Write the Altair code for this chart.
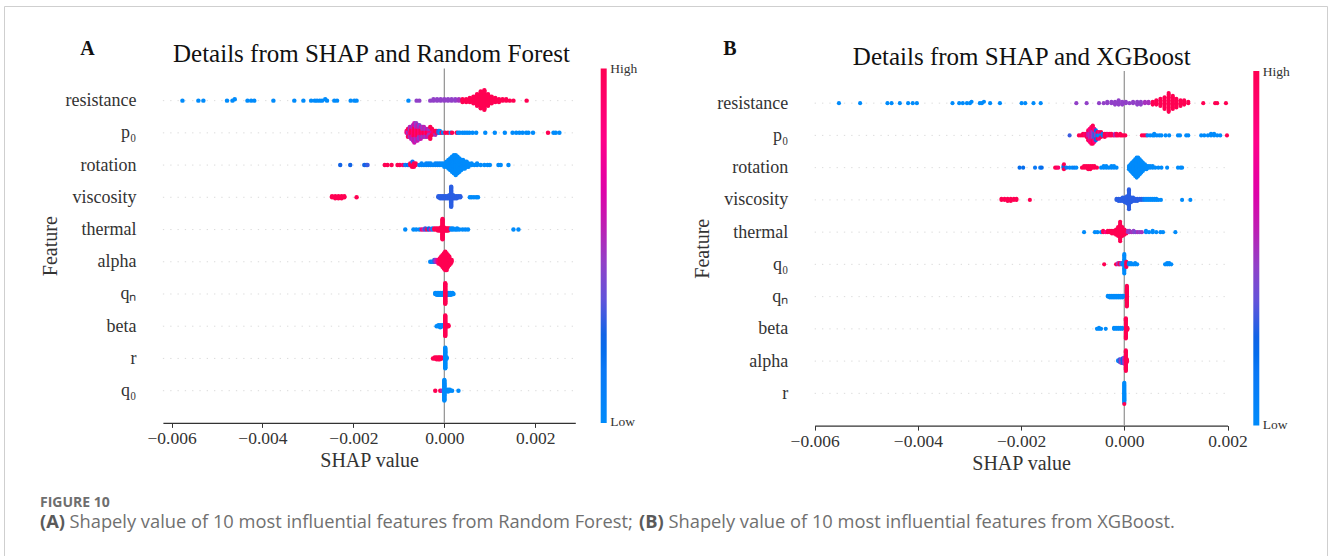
import json
import altair as alt
import numpy as np
import pandas as pd

# SHAP values in units of 0.001; each entry: (shap value, number of samples, scaled feature value 0=low .. 1=high)
UNIT = 0.001

RF_FEATURES = ["resistance", "p₀", "rotation", "viscosity", "thermal", "alpha", "qₙ", "beta", "r", "q₀"]
XGB_FEATURES = ["resistance", "p₀", "rotation", "viscosity", "thermal", "q₀", "qₙ", "beta", "alpha", "r"]

RF_RESISTANCE = [
    (-5.76, 1, 0), (-5.41, 1, 0), (-5.30, 1, 0), (-4.78, 1, 0), (-4.66, 1, 0), (-4.61, 1, 0), (-4.33, 1, 0),
    (-4.25, 1, 0), (-4.18, 1, 0), (-3.76, 1, 0), (-3.30, 1, 0), (-3.10, 1, 0), (-2.93, 1, 0), (-2.85, 1, 0),
    (-2.80, 1, 0), (-2.74, 1, 0), (-2.69, 1, 0), (-2.62, 1, 0), (-2.58, 1, 0), (-2.42, 1, 0), (-2.36, 1, 0),
    (-2.06, 1, 0), (-1.98, 1, 0), (-1.93, 1, 0), (-0.79, 1, 0),
    (-0.61, 1, 0.45), (-0.55, 1, 0.45), (-0.31, 1, 0.45), (-0.24, 2, 0.45), (-0.16, 2, 0.45), (-0.08, 2, 0.45),
    (0.00, 2, 0.45), (0.08, 2, 0.45), (0.16, 2, 0.45), (0.24, 2, 0.45), (0.32, 2, 0.5),
    (0.40, 3, 1), (0.48, 3, 1), (0.56, 4, 1), (0.64, 6, 1), (0.72, 10, 1), (0.80, 14, 1), (0.88, 16, 1),
    (0.96, 10, 1), (1.04, 6, 1), (1.12, 4, 1), (1.20, 3, 1), (1.28, 2, 1), (1.36, 2, 1), (1.44, 1, 1),
    (1.52, 1, 1), (1.81, 1, 1),
]
RF_P0 = [
    (-0.83, 2, 0.85), (-0.80, 3, 0.5), (-0.80, 2, 1), (-0.76, 3, 0.85), (-0.76, 3, 0.5), (-0.73, 4, 1),
    (-0.73, 3, 0.6), (-0.69, 5, 0.85), (-0.69, 4, 0.5), (-0.66, 6, 1), (-0.66, 5, 0.6), (-0.62, 5, 0.85),
    (-0.62, 5, 0.45), (-0.59, 5, 1), (-0.59, 4, 0.6), (-0.55, 4, 0.85), (-0.55, 4, 0.4), (-0.52, 4, 1),
    (-0.52, 3, 0.6), (-0.48, 3, 0.9), (-0.48, 3, 0.45), (-0.45, 3, 1), (-0.45, 3, 0.55), (-0.41, 3, 0.85),
    (-0.41, 2, 0.45), (-0.38, 3, 1), (-0.38, 2, 0.6), (-0.34, 2, 0.85), (-0.34, 2, 0.5), (-0.31, 3, 1),
    (-0.27, 2, 0.6), (-0.27, 2, 1), (-0.24, 2, 0.9), (-0.20, 2, 1), (-0.20, 1, 0.5), (-0.17, 2, 1),
    (-0.13, 2, 0.3), (-0.10, 2, 0), (-0.06, 1, 1), (-0.03, 1, 0), (0.02, 1, 1), (0.08, 1, 1), (0.14, 1, 0),
    (0.17, 1, 1), (0.27, 1, 1),
    (0.30, 1, 0), (0.34, 1, 0), (0.40, 1, 0), (0.45, 1, 0), (0.50, 1, 0), (0.55, 1, 0), (0.62, 1, 0),
    (0.70, 1, 0), (0.90, 1, 0), (1.11, 1, 0), (1.33, 1, 0), (1.50, 1, 0), (1.58, 1, 0), (1.65, 1, 0),
    (1.72, 1, 0), (1.80, 1, 0), (1.85, 1, 0), (1.95, 1, 0), (2.28, 1, 1), (2.40, 1, 0), (2.45, 1, 0),
    (2.53, 1, 0),
]
RF_ROTATION = [
    (-2.29, 1, 0.25), (-2.07, 1, 0.25), (-1.76, 1, 0.25), (-1.72, 1, 0.25), (-1.69, 1, 0.3),
    (-1.31, 1, 1), (-1.25, 1, 1), (-1.16, 1, 1), (-1.03, 1, 1), (-0.98, 1, 1), (-0.91, 1, 0.9),
    (-0.86, 1, 0.1), (-0.80, 1, 0.2), (-0.77, 1, 0),
    (-0.75, 2, 1), (-0.71, 3, 1), (-0.70, 1, 0.15), (-0.67, 3, 1), (-0.63, 2, 1),
    (-0.55, 1, 0.05), (-0.50, 2, 0.05), (-0.45, 1, 0.05), (-0.40, 2, 0.05), (-0.35, 2, 0.05), (-0.30, 2, 0.05),
    (-0.25, 1, 0.05), (-0.20, 2, 0.05), (-0.15, 2, 0.05), (-0.10, 2, 0.05), (-0.05, 2, 0), (0.00, 3, 0),
    (0.05, 4, 0), (0.09, 6, 0), (0.13, 8, 0), (0.17, 10, 0), (0.21, 12, 0), (0.25, 13, 0), (0.29, 11, 0),
    (0.33, 9, 0), (0.37, 7, 0), (0.41, 6, 0), (0.45, 5, 0), (0.49, 4, 0), (0.53, 3, 0),
    (0.60, 2, 0), (0.66, 1, 0), (0.72, 2, 0), (0.80, 1, 0), (0.88, 1, 0), (0.95, 1, 0), (1.00, 1, 0),
    (1.19, 1, 0), (1.24, 1, 0), (1.41, 1, 0),
]
RF_VISCOSITY = [
    (-2.47, 2, 1), (-2.40, 3, 1), (-2.33, 3, 1), (-2.26, 3, 1), (-2.20, 2, 1), (-1.93, 1, 1),
    (-0.13, 2, 0.28), (-0.09, 3, 0.28), (-0.05, 3, 0.28), (-0.01, 3, 0.28), (0.03, 3, 0.28), (0.07, 3, 0.28),
    (0.11, 4, 0.28), (0.15, 20, 0.28), (0.19, 4, 0.28), (0.23, 3, 0.28), (0.27, 3, 0.28), (0.31, 2, 0.28),
    (0.35, 2, 0.28),
    (0.56, 1, 0), (0.60, 1, 0), (0.65, 1, 0), (0.70, 1, 0), (0.74, 1, 0),
]
RF_THERMAL = [
    (-0.86, 1, 0), (-0.68, 1, 0), (-0.62, 1, 0), (-0.55, 1, 0), (-0.50, 1, 0.9), (-0.46, 1, 0.5),
    (-0.42, 2, 0.3), (-0.38, 1, 1), (-0.34, 2, 0.2), (-0.30, 1, 0.6), (-0.26, 2, 0), (-0.22, 2, 1),
    (-0.18, 2, 1), (-0.14, 3, 1), (-0.10, 3, 1), (-0.07, 4, 1), (-0.04, 22, 1), (-0.01, 4, 1), (0.02, 3, 1),
    (0.05, 3, 1), (0.08, 3, 1), (0.11, 2, 1), (0.15, 2, 0), (0.19, 2, 0), (0.24, 1, 0), (0.28, 2, 0),
    (0.33, 1, 0), (0.40, 1, 0), (0.46, 1, 0), (0.52, 1, 0), (1.52, 1, 0), (1.63, 1, 0),
]
RF_ALPHA = [
    (-0.31, 1, 0), (-0.28, 1, 0.1), (-0.25, 1, 0), (-0.22, 2, 0.3), (-0.19, 2, 0.5), (-0.16, 2, 0.6),
    (-0.13, 3, 0.9), (-0.10, 4, 1), (-0.07, 6, 1), (-0.04, 8, 1), (-0.01, 10, 1), (0.02, 12, 1),
    (0.05, 11, 1), (0.08, 8, 1), (0.11, 6, 1), (0.14, 3, 1), (0.16, 2, 1),
]
RF_QN = [
    (-0.20, 2, 0), (-0.16, 3, 0), (-0.12, 3, 0), (-0.08, 3, 0), (-0.04, 3, 0), (0.06, 3, 0), (0.10, 3, 0),
    (0.14, 3, 0), (0.18, 2, 0), (0.20, 1, 0), (0.02, 24, 1),
]
RF_BETA = [
    (-0.17, 1, 0), (-0.13, 2, 0), (-0.09, 3, 0), (-0.05, 2, 0), (-0.02, 2, 0), (0.02, 22, 1), (0.06, 2, 1),
    (0.09, 2, 1),
]
RF_R = [
    (-0.25, 1, 1), (-0.21, 2, 1), (-0.17, 3, 1), (-0.13, 3, 1), (-0.10, 3, 1), (-0.06, 2, 1), (0.02, 24, 0),
    (0.05, 2, 0),
]
RF_Q0 = [
    (-0.20, 1, 1), (-0.09, 1, 1), (-0.05, 1, 0.5), (0.00, 24, 0), (0.04, 2, 0), (0.08, 3, 0), (0.12, 2, 0),
    (0.17, 1, 0), (0.31, 1, 0),
]

XGB_RESISTANCE = [
    (-5.53, 1, 0), (-5.12, 1, 0), (-4.59, 1, 0), (-4.51, 1, 0), (-4.35, 1, 0), (-4.19, 1, 0), (-4.10, 1, 0),
    (-4.02, 1, 0), (-3.33, 1, 0), (-3.20, 1, 0), (-3.13, 1, 0), (-3.05, 1, 0), (-2.99, 1, 0), (-2.96, 1, 0),
    (-2.80, 1, 0), (-2.76, 1, 0), (-2.72, 1, 0), (-2.60, 1, 0), (-2.41, 1, 0), (-1.99, 1, 0), (-1.92, 1, 0),
    (-1.76, 1, 0), (-1.62, 1, 0),
    (-0.93, 1, 0.45), (-0.73, 1, 0.45), (-0.49, 1, 0.45), (-0.40, 1, 0.45), (-0.33, 2, 0.45), (-0.25, 2, 0.45),
    (-0.18, 3, 0.45), (-0.11, 4, 0.45), (-0.04, 3, 0.45), (0.03, 2, 0.45), (0.10, 1, 0.45), (0.17, 2, 0.45),
    (0.25, 3, 0.45), (0.32, 3, 0.45), (0.40, 2, 0.5), (0.47, 2, 0.5),
    (0.55, 3, 1), (0.62, 4, 1), (0.70, 6, 1), (0.78, 9, 1), (0.86, 14, 1), (0.94, 10, 1), (1.01, 7, 1),
    (1.09, 5, 1), (1.16, 4, 1), (1.24, 2, 1), (1.53, 1, 1), (1.76, 1, 1), (1.80, 1, 1), (1.97, 1, 1),
]
XGB_P0 = [
    (-1.06, 1, 0.3), (-0.88, 1, 1), (-0.84, 1, 1), (-0.80, 2, 1), (-0.76, 2, 0.9), (-0.73, 3, 1),
    (-0.70, 4, 0.6), (-0.70, 3, 1), (-0.67, 5, 0.5), (-0.67, 4, 0.85), (-0.64, 6, 0.6), (-0.64, 5, 0.9),
    (-0.61, 6, 0.45), (-0.61, 6, 1), (-0.58, 5, 0.3), (-0.58, 4, 0.85), (-0.55, 4, 0.5), (-0.55, 3, 0.2),
    (-0.52, 3, 0.1), (-0.52, 2, 1), (-0.49, 3, 0), (-0.49, 2, 0.85), (-0.45, 2, 0), (-0.45, 2, 1),
    (-0.42, 2, 0.1), (-0.38, 3, 1), (-0.35, 2, 1), (-0.32, 2, 0.9), (-0.28, 2, 1), (-0.25, 2, 1),
    (-0.21, 1, 1), (-0.18, 2, 0.5), (-0.15, 2, 1), (-0.12, 1, 1), (-0.08, 2, 1), (-0.05, 1, 1), (-0.02, 1, 1),
    (0.02, 1, 1),
    (0.34, 1, 1), (0.38, 1, 1), (0.42, 1, 1), (0.45, 1, 0), (0.50, 1, 0), (0.55, 1, 0), (0.58, 2, 0),
    (0.63, 1, 0), (0.68, 1, 0), (0.72, 1, 0), (0.80, 1, 0), (0.87, 1, 0), (1.04, 1, 0), (1.08, 1, 0),
    (1.20, 1, 0), (1.24, 1, 0), (1.49, 1, 0), (1.55, 1, 0), (1.62, 1, 0), (1.68, 2, 0), (1.74, 2, 0),
    (1.80, 1, 0), (1.86, 1, 0), (1.99, 1, 1),
]
XGB_ROTATION = [
    (-2.03, 1, 0.2), (-1.96, 1, 0.2), (-1.73, 1, 0.15), (-1.63, 1, 0.15), (-1.60, 1, 0.2),
    (-1.34, 1, 1), (-1.31, 1, 1), (-1.28, 1, 0.9), (-1.18, 2, 0.2), (-1.17, 2, 1), (-1.12, 1, 0.1),
    (-1.06, 1, 0), (-1.01, 1, 0), (-0.97, 1, 0.1), (-0.93, 1, 0),
    (-0.82, 1, 1), (-0.78, 2, 1), (-0.74, 2, 1), (-0.70, 3, 1), (-0.66, 3, 1), (-0.62, 2, 1), (-0.58, 2, 1),
    (-0.53, 1, 1),
    (-0.45, 1, 0), (-0.40, 2, 0), (-0.35, 2, 0), (-0.30, 1, 0), (-0.25, 2, 0), (-0.20, 2, 0), (-0.15, 1, 0),
    (0.09, 3, 0), (0.12, 5, 0), (0.15, 7, 0), (0.18, 9, 0), (0.21, 11, 0), (0.24, 13, 0), (0.27, 12, 0),
    (0.30, 10, 0), (0.33, 8, 0), (0.36, 6, 0), (0.40, 4, 0), (0.43, 3, 0), (0.46, 2, 0),
    (0.50, 2, 0), (0.55, 2, 0), (0.60, 1, 0), (0.66, 1, 0), (0.72, 1, 0), (0.83, 1, 0), (1.04, 1, 0),
    (1.09, 1, 0), (1.12, 1, 0),
]
XGB_VISCOSITY = [
    (-2.38, 2, 1), (-2.32, 2, 1), (-2.26, 3, 1), (-2.20, 3, 1), (-2.14, 2, 1), (-2.09, 2, 1), (-1.83, 1, 1),
    (-0.15, 2, 0.28), (-0.11, 3, 0.28), (-0.07, 3, 0.28), (-0.03, 4, 0.28), (0.01, 5, 0.28), (0.05, 7, 0.28),
    (0.09, 18, 0.28), (0.13, 5, 0.28), (0.17, 4, 0.28), (0.21, 3, 0.28), (0.25, 3, 0.28), (0.30, 2, 0.28),
    (0.34, 2, 0.28), (0.38, 2, 0.1),
    (0.42, 2, 0), (0.46, 2, 0), (0.50, 2, 0), (0.54, 2, 0), (0.58, 2, 0), (0.62, 2, 0), (0.66, 1, 0),
    (0.71, 1, 0), (1.12, 1, 0), (1.28, 1, 0),
]
XGB_THERMAL = [
    (-0.78, 1, 0), (-0.57, 1, 0), (-0.52, 1, 0), (-0.45, 1, 0), (-0.41, 2, 1), (-0.36, 1, 0.8), (-0.32, 2, 1),
    (-0.28, 2, 1), (-0.24, 3, 1), (-0.20, 3, 1), (-0.16, 5, 1), (-0.12, 8, 1), (-0.08, 16, 1), (-0.04, 8, 1),
    (0.00, 5, 1), (0.04, 3, 1), (0.07, 2, 0.5), (0.10, 2, 0.45), (0.14, 1, 0.5), (0.18, 2, 0.45),
    (0.22, 1, 0.4), (0.26, 1, 0.5), (0.30, 1, 0.45), (0.34, 1, 0.5), (0.42, 2, 0), (0.48, 1, 0),
    (0.55, 2, 0), (0.62, 1, 0), (0.70, 1, 0), (0.75, 1, 0), (0.99, 1, 0),
]
XGB_Q0 = [
    (-0.39, 1, 1), (-0.16, 1, 1), (-0.12, 2, 0.5), (-0.09, 2, 1), (-0.06, 2, 0.4), (-0.03, 2, 0),
    (0.00, 16, 0), (0.04, 5, 1), (0.09, 2, 0), (0.13, 2, 0), (0.17, 1, 0), (0.21, 2, 0), (0.25, 1, 0),
    (0.79, 1, 0), (0.83, 2, 0), (0.87, 2, 0), (0.91, 1, 0),
]
XGB_QN = [
    (-0.32, 2, 0), (-0.28, 3, 0), (-0.24, 3, 0), (-0.20, 3, 0), (-0.16, 3, 0), (-0.12, 3, 0), (-0.08, 3, 0),
    (-0.04, 3, 0), (-0.01, 2, 0), (0.05, 24, 1),
]
XGB_BETA = [
    (-0.53, 1, 0), (-0.49, 2, 0), (-0.45, 1, 0), (-0.36, 1, 0), (-0.20, 2, 0), (-0.16, 2, 0), (-0.12, 2, 0),
    (-0.08, 2, 0), (-0.04, 2, 0), (0.03, 22, 1), (0.06, 3, 1),
]
XGB_ALPHA = [
    (-0.12, 2, 0), (-0.09, 4, 0.3), (-0.06, 5, 0.45), (-0.03, 6, 0.2), (0.00, 8, 0.5), (0.03, 24, 1),
    (0.05, 4, 1),
]
XGB_R = [(0.00, 22, 0), (0.00, 1, 1)]

RF_ROWS = [RF_RESISTANCE, RF_P0, RF_ROTATION, RF_VISCOSITY, RF_THERMAL, RF_ALPHA, RF_QN, RF_BETA, RF_R, RF_Q0]
XGB_ROWS = [XGB_RESISTANCE, XGB_P0, XGB_ROTATION, XGB_VISCOSITY, XGB_THERMAL, XGB_Q0, XGB_QN, XGB_BETA,
            XGB_ALPHA, XGB_R]

TITLE_A = "Details from SHAP and Random Forest"
TITLE_B = "Details from SHAP and XGBoost"
X_TITLE = "SHAP value"
Y_TITLE = "Feature"
X_TICKS = [-0.006, -0.004, -0.002, 0.0, 0.002]
BAR_LABELS = ["High", "Low"]
FIG_LABEL = "FIGURE 10"
CAPTION = ["(A)", "Shapely value of 10 most influential features from Random Forest;", "(B)",
           "Shapely value of 10 most influential features from XGBoost."]

COLOR_STOPS = [0, 0.15, 0.23, 0.34, 0.45, 0.56, 0.66, 0.8, 1]
COLOR_RANGE = ["#008bfb", "#0a78f5", "#0066e8", "#5d55dc", "#9140c8", "#c01cb2", "#e000a8", "#ff0088",
               "#ff0052"]

FONT = "Liberation Serif"
INK = "#333333"


def swarm(rows):
    """SHAP beeswarm layout: 100 bins per feature, points stacked alternately above/below the row."""
    frames = []
    n = len(rows)
    for i, entries in enumerate(rows):
        vals, cols = [], []
        for v, k, c in entries:
            vals += [v * UNIT] * k
            cols += [c] * k
        vals = np.array(vals)
        cols = np.array(cols, dtype=float)
        quant = np.round(100 * (vals - vals.min()) / (vals.max() - vals.min() + 1e-8))
        inds = np.argsort(quant, kind="stable")
        ys = np.zeros(len(vals))
        layer, last = 0, -1
        for j in inds:
            if quant[j] != last:
                layer = 0
            ys[j] = np.ceil(layer / 2) * ((layer % 2) * 2 - 1)
            layer += 1
            last = quant[j]
        ys *= 0.9 * (0.4 / np.max(ys + 1))
        frames.append(pd.DataFrame({"shap": vals, "val": cols, "y": (n - 1 - i) + ys}))
    return pd.concat(frames, ignore_index=True)


def text(t, x, y, size, weight="normal", font=FONT, color="#111111", align="center", baseline="alphabetic"):
    return alt.Chart(pd.DataFrame({"t": [t]})).mark_text(
        font=font, fontSize=size, fontWeight=weight, color=color, align=align, baseline=baseline
    ).encode(text="t:N", x=alt.value(x), y=alt.value(y))


def panel(rows, features, xdom, xrange, yrange, bar_x, size):
    """Layers of one SHAP panel. All its layers carry identical, fully explicit scales."""
    df = swarm(rows)

    def xs():
        return alt.Scale(domain=xdom, range=xrange, nice=False, zero=False)

    def ys():
        return alt.Scale(domain=[-1, 10], range=yrange, nice=False, zero=False)

    names = json.dumps(features[::-1], ensure_ascii=False)
    grid = alt.Chart(pd.DataFrame({"row": list(range(len(features)))})).mark_rule(
        color="#cccccc", strokeWidth=0.7, strokeDash=[1.3, 6]
    ).encode(
        y=alt.Y("row:Q", scale=ys(), axis=None),
        x=alt.X(datum=xdom[0], scale=xs(), axis=None),
        x2=alt.X2(datum=xdom[1]),
    )
    zero = alt.Chart(pd.DataFrame({"v": [0.0]})).mark_rule(color="#999999", strokeWidth=1.3).encode(
        x=alt.X("v:Q", scale=xs(), axis=None),
        y=alt.Y(datum=-1, scale=ys(), axis=None),
        y2=alt.Y2(datum=10),
    )
    pts = alt.Chart(df).mark_circle(size=size, opacity=1, strokeWidth=0).encode(
        x=alt.X("shap:Q", scale=xs(), axis=alt.Axis(
            orient="bottom", offset=yrange[0] - 556, values=X_TICKS, format=".3f", grid=False,
            labelFont=FONT, labelFontSize=17.5, labelColor=INK, labelFlush=False, labelPadding=2,
            labelOverlap=False, tickColor=INK, tickSize=4.5, tickWidth=1, domainColor=INK, domainWidth=1.1,
            title=X_TITLE, titleFont=FONT, titleFontSize=20, titleFontWeight="normal", titleColor=INK,
            titlePadding=4)),
        y=alt.Y("y:Q", scale=ys(), axis=alt.Axis(
            orient="left", offset=-xrange[0], values=list(range(len(features))),
            labelExpr=f"{names}[datum.value]", ticks=False, domain=False, grid=False,
            labelPadding=27, labelFont=FONT, labelFontSize=18, labelColor=INK, labelOverlap=False,
            title=Y_TITLE, titleFont=FONT, titleFontSize=20, titleFontWeight="normal", titleColor=INK,
            titlePadding=4)),
        color=alt.Color("val:Q", scale=alt.Scale(domain=COLOR_STOPS, range=COLOR_RANGE, interpolate="rgb"),
                        legend=alt.Legend(
                            orient="none", legendX=bar_x, legendY=yrange[1], direction="vertical",
                            title=None, gradientLength=yrange[0] - yrange[1], gradientThickness=6,
                            gradientStrokeWidth=0, values=[0, 1], labelExpr="''", padding=0)),
    )
    bar_labels = [
        text(BAR_LABELS[0], bar_x + 9.5, yrange[1] + 1, 13.5, color=INK, align="left", baseline="middle"),
        text(BAR_LABELS[1], bar_x + 9.5, yrange[0] - 0.5, 13.5, color=INK, align="left", baseline="middle"),
    ]
    return [grid, zero, pts] + bar_labels


border = alt.Chart(pd.DataFrame({"k": [0]})).mark_rect(
    fillOpacity=0, stroke="#cfcfcf", strokeWidth=1
).encode(x=alt.value(4.5), x2=alt.value(1327.5), y=alt.value(6.5), y2=alt.value(620))

layers_a = panel(RF_ROWS, RF_FEATURES, [-0.00619, 0.00288], [162.9, 575.3], [422.9, 68.4], 600.7, 20)
layers_b = panel(XGB_ROWS, XGB_FEATURES, [-0.006, 0.002], [814.7, 1227.5], [425.6, 70.9], 1253.3, 17)

texts = [
    text(TITLE_A, 371.5, 62, 25),
    text(TITLE_B, 1021.8, 64.5, 25),
    text("A", 87.5, 55, 20, weight="bold"),
    text("B", 730, 55, 20, weight="bold"),
    text(FIG_LABEL, 40, 506.5, 14, weight="bold", font="Open Sans", color="#6e6e6e", align="left"),
    text(CAPTION[0], 40, 528, 18.3, weight="bold", font="Open Sans", color="#5a5a5a", align="left"),
    text(CAPTION[1], 69.5, 528, 18.3, font="Open Sans", color="#707070", align="left"),
    text(CAPTION[2], 639, 528, 18.3, weight="bold", font="Open Sans", color="#5a5a5a", align="left"),
    text(CAPTION[3], 668.5, 528, 18.3, font="Open Sans", color="#707070", align="left"),
]

chart = alt.layer(border, *layers_a, *layers_b, *texts).resolve_scale(
    x="independent", y="independent", color="independent"
).properties(
    width=1328, height=556, autosize=alt.AutoSizeParams(type="none"), padding=0, background="white"
).configure_view(strokeWidth=0)

chart.save("out.html", embed_options={"renderer": "svg", "actions": False})
